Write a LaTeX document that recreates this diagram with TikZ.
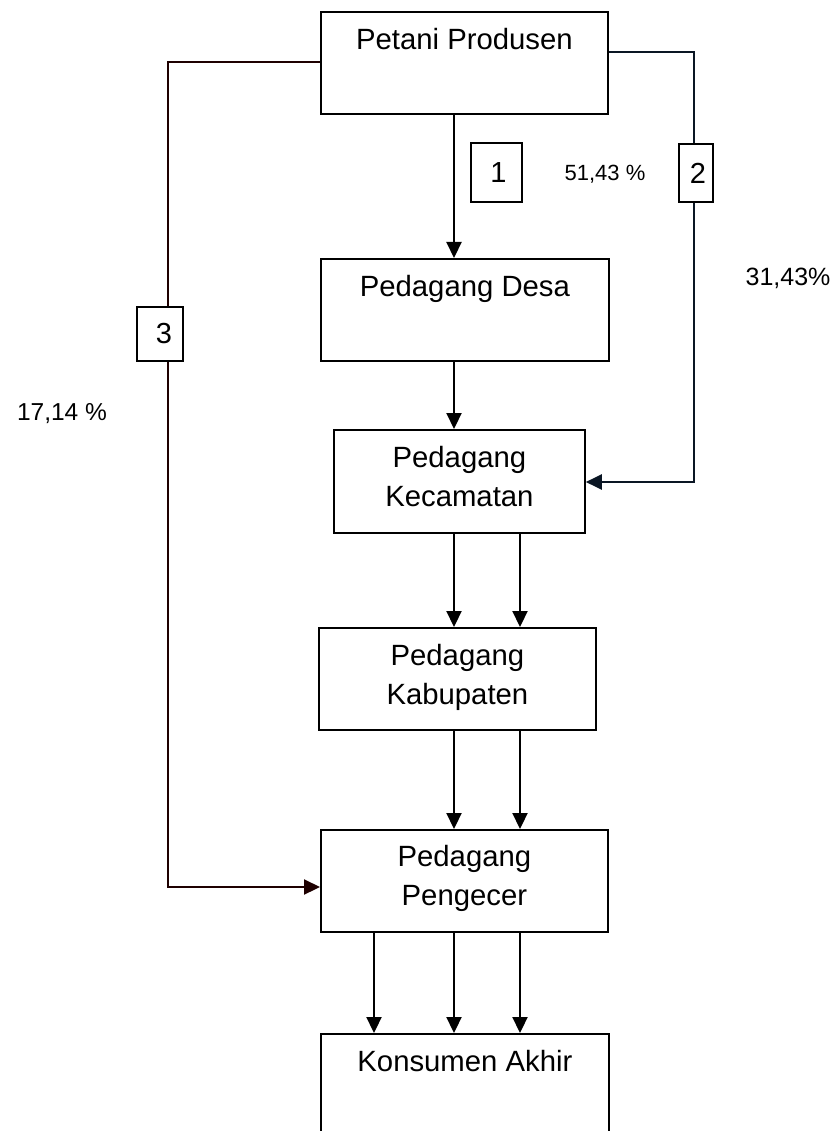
\documentclass[tikz,border=0pt]{standalone}
\usepackage{fontspec}
\setmainfont{Liberation Sans}
\usetikzlibrary{arrows.meta}
\definecolor{lred}{RGB}{30,0,0}
\definecolor{lblue}{RGB}{10,22,36}
\begin{document}
\begin{tikzpicture}[x=1pt,y=-1pt,
  box/.style={draw, line width=1.8pt, fill=white, inner xsep=0pt, inner ysep=0pt,
    anchor=north west, align=center, font=\fontsize{29.3}{39}\selectfont},
  lbl/.style={draw, line width=1.8pt, fill=white, inner sep=0pt, anchor=north west,
    font=\fontsize{29}{35}\selectfont},
  arr/.style={line width=2.2pt, -{Triangle[length=16pt,width=15pt]}},
  pct/.style={inner sep=0pt}]
\useasboundingbox (0,0) rectangle (838,1131);
\clip (0,0) rectangle (838,1131);

% main boxes
\node[box, minimum width=287pt, text height=38pt, text depth=64pt] (pp) at (320,11) {Petani Produsen};
\node[box, minimum width=288pt, text height=38pt, text depth=64pt] (pd) at (320,258) {Pedagang Desa};
\node[box, minimum width=251pt, text height=77pt, text depth=26pt] (pk) at (333,429) {Pedagang\\Kecamatan};
\node[box, minimum width=277pt, text height=77pt, text depth=25pt] (pb) at (318,627) {Pedagang\\Kabupaten};
\node[box, minimum width=287pt, text height=76pt, text depth=26pt] (pe) at (320,829) {Pedagang\\Pengecer};
\node[box, minimum width=288pt, text height=38pt, text depth=120pt] (ka) at (320,1033) {Konsumen Akhir};

% channel 3 (left)
\draw[arr, draw=lred] (pp.west |- 0,62) -- (168,62) -- (168,887) -- (pe.west |- 0,887);
% channel 2 (right)
\draw[arr, draw=lblue] (pp.east |- 0,52) -- (694,52) -- (694,482) -- (pk.east |- 0,482);
% channel 1 (centre)
\draw[arr] (pp.south -| 454,0) -- (pd.north -| 454,0);
\draw[arr] (pd.south -| 454,0) -- (pk.north -| 454,0);
\draw[arr] (pk.south -| 454,0) -- (pb.north -| 454,0);
\draw[arr] (pk.south -| 520,0) -- (pb.north -| 520,0);
\draw[arr] (pb.south -| 454,0) -- (pe.north -| 454,0);
\draw[arr] (pb.south -| 520,0) -- (pe.north -| 520,0);
\draw[arr] (pe.south -| 374,0) -- (ka.north -| 374,0);
\draw[arr] (pe.south -| 454,0) -- (ka.north -| 454,0);
\draw[arr] (pe.south -| 520,0) -- (ka.north -| 520,0);

% channel labels
\node[lbl, minimum width=51pt, minimum height=59pt] (b1) at (470,142) {\hspace*{4pt}1};
\node[lbl, minimum width=34pt, minimum height=58pt] (b2) at (678,143) {\hspace*{4pt}2};
\node[lbl, minimum width=46pt, minimum height=54pt] (b3) at (136,306) {\hspace*{8pt}3};

% percentages
\node[pct, font=\fontsize{22}{26}\selectfont] (p1) at (605,174) {51,43 \%};
\node[pct, font=\fontsize{25}{30}\selectfont] (p2) at (788,278) {31,43\%};
\node[pct, font=\fontsize{24.5}{30}\selectfont] (p3) at (62,414) {17,14 \%};
\end{tikzpicture}
\end{document}
